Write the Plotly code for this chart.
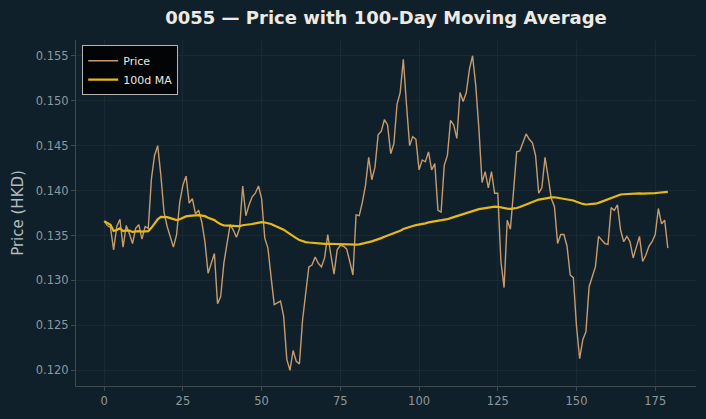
import plotly.graph_objects as go
import pandas as pd

# ---- data ----
days = list(range(180))
price = [
    0.1366, 0.1361, 0.1359, 0.1334, 0.1360, 0.1368, 0.1337, 0.1361, 0.1352, 0.1341,
    0.1358, 0.1362, 0.1346, 0.1360, 0.1358, 0.1413, 0.1439, 0.1450, 0.1417, 0.1376,
    0.1360, 0.1347, 0.1337, 0.1351, 0.1387, 0.1406, 0.1416, 0.1386, 0.1391, 0.1374,
    0.1378, 0.1365, 0.1343, 0.1308, 0.1319, 0.1330, 0.1274, 0.1282, 0.1319, 0.1343,
    0.1362, 0.1356, 0.1348, 0.1358, 0.1405, 0.1372, 0.1384, 0.1393, 0.1397, 0.1405,
    0.1391, 0.1347, 0.1336, 0.1304, 0.1273, 0.1275, 0.1277, 0.1260, 0.1212, 0.1200,
    0.1222, 0.1210, 0.1207, 0.1256, 0.1286, 0.1315, 0.1317, 0.1326, 0.1319, 0.1315,
    0.1325, 0.1351, 0.1328, 0.1307, 0.1334, 0.1339, 0.1338, 0.1335, 0.1321, 0.1306,
    0.1373, 0.1372, 0.1387, 0.1406, 0.1437, 0.1412, 0.1426, 0.1462, 0.1466, 0.1479,
    0.1473, 0.1441, 0.1452, 0.1496, 0.1509, 0.1546, 0.1496, 0.1450, 0.1460, 0.1457,
    0.1423, 0.1434, 0.1432, 0.1443, 0.1423, 0.1430, 0.1378, 0.1376, 0.1428, 0.1439,
    0.1478, 0.1473, 0.1458, 0.1509, 0.1499, 0.1509, 0.1535, 0.1550, 0.1517, 0.1469,
    0.1409, 0.1421, 0.1403, 0.1421, 0.1397, 0.1397, 0.1321, 0.1292, 0.1367, 0.1357,
    0.1399, 0.1443, 0.1444, 0.1454, 0.1463, 0.1457, 0.1453, 0.1439, 0.1397, 0.1403,
    0.1437, 0.1415, 0.1391, 0.1382, 0.1341, 0.1351, 0.1351, 0.1338, 0.1306, 0.1303,
    0.1249, 0.1213, 0.1234, 0.1243, 0.1293, 0.1304, 0.1315, 0.1349, 0.1345, 0.1341,
    0.1340, 0.1381, 0.1378, 0.1384, 0.1356, 0.1343, 0.1349, 0.1343, 0.1325, 0.1338,
    0.1349, 0.1321, 0.1328, 0.1338, 0.1343, 0.1351, 0.1380, 0.1363, 0.1367, 0.1336,
]
ma_window = 100
ma = pd.Series(price).rolling(ma_window, min_periods=1).mean().tolist()

x_ticks = [0, 25, 50, 75, 100, 125, 150, 175]

# ---- style ----
BG = "#10202a"
GRID = "#1b2a32"
SPINE = "#3d4a50"
TICK_TXT = "#8e989c"
PRICE_C = "#c69c6e"
MA_C = "#e6b81a"

fig = go.Figure()
fig.add_trace(go.Scatter(x=days, y=price, mode="lines", name="Price",
                         line=dict(color=PRICE_C, width=1.4)))
fig.add_trace(go.Scatter(x=days, y=ma, mode="lines", name="100d MA",
                         line=dict(color=MA_C, width=2.2)))

n = len(days)
xpad = 0.05 * (n - 1)
lo, hi = min(price), max(price)
ypad = 0.05 * (hi - lo)

fig.update_layout(
    width=706, height=419,
    margin=dict(l=76, r=10, t=40, b=33, autoexpand=False),
    paper_bgcolor=BG, plot_bgcolor=BG,
    font=dict(family="DejaVu Sans", color=TICK_TXT),
    title=dict(text="<b>0055 — Price with 100-Day Moving Average</b>",
               x=0.5, xref="paper", xanchor="center",
               y=1 - 18 / 419, yref="container", yanchor="middle",
               font=dict(family="DejaVu Sans", size=18, color="#eeeae2")),
    showlegend=True,
    legend=dict(x=0.01, y=0.985, xanchor="left", yanchor="top",
                bgcolor="rgba(0,0,0,0.88)", bordercolor="#b5b5b5", borderwidth=1,
                font=dict(family="DejaVu Sans", size=11, color="#e8e8e8"),
                itemwidth=30, tracegroupgap=0),
    xaxis=dict(range=[-xpad, n - 1 + xpad], tickvals=x_ticks,
               showgrid=True, gridcolor=GRID, gridwidth=1, zeroline=False,
               showline=True, linecolor=SPINE, linewidth=1,
               ticks="outside", ticklen=4, tickcolor=SPINE,
               tickfont=dict(size=11.5, color=TICK_TXT)),
    yaxis=dict(range=[lo - ypad, hi + ypad], dtick=0.005, tick0=0.12,
               tickformat=".3f",
               showgrid=True, gridcolor=GRID, gridwidth=1, zeroline=False,
               showline=True, linecolor=SPINE, linewidth=1,
               ticks="outside", ticklen=4, tickcolor=SPINE,
               tickfont=dict(size=11.5, color=TICK_TXT),
               title=dict(text="Price (HKD)", standoff=8,
                          font=dict(size=15, color="#b3bbbe"))),
)

fig.write_html("out.html")
